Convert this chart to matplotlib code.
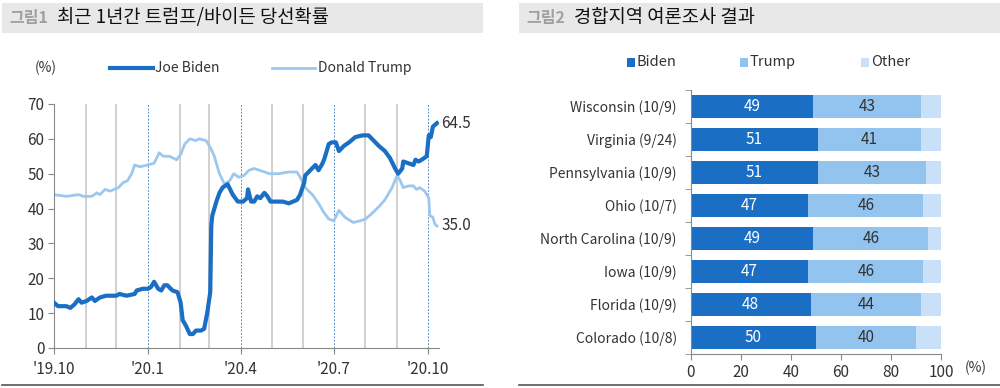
import matplotlib.pyplot as plt
import matplotlib.patches as mpatches
import numpy as np
import pandas as pd

plt.rcParams['font.family'] = ['Noto Sans CJK KR', 'DejaVu Sans']

# --- data: figure 1 (days since 2019-10-01) ---
biden_days = [0, 4, 12, 16, 20, 24, 27, 32, 37, 40, 45, 51, 61, 64, 71, 79, 81, 87, 92, 95,
              98, 102, 105, 108, 111, 116, 121, 124, 126, 129, 133, 136, 139, 144, 147, 150,
              153, 154, 155, 159, 162, 165, 170, 175, 180, 185, 189, 190, 193, 196, 199, 202,
              206, 209, 212, 217, 224, 230, 238, 241, 245, 246, 251, 256, 259, 263, 265, 269,
              272, 276, 279, 284, 289, 295, 302, 308, 313, 318, 324, 329, 334, 337, 341, 342,
              347, 352, 354, 357, 360, 365, 367, 369, 371, 375]
biden_vals = [13, 12, 12, 11.5, 12.5, 14, 13, 13.5, 14.5, 13.5, 14.5, 15, 15, 15.5, 15, 15.5,
              16.5, 17, 17, 17.5, 19, 17, 16.5, 18, 18, 16.5, 16, 13, 8, 6.5, 4, 4, 5, 5, 5.5,
              10, 16, 35, 38, 42, 44.5, 46, 47, 44, 42, 42, 43, 45.5, 42, 42, 43.5, 43, 44.5,
              43.5, 42, 42, 42, 41.5, 42.5, 44, 47.5, 49.5, 51, 52.5, 51, 53, 54.5, 58.5, 59,
              59, 56.5, 58, 59, 60.5, 61, 61, 59.5, 58, 56.5, 54.5, 51.5, 50, 51.5, 53.5, 53,
              52.5, 54, 53.5, 54, 55, 61, 60.5, 63.5, 64.5]
trump_days = [0, 12, 24, 29, 37, 42, 45, 50, 55, 63, 68, 72, 76, 79, 84, 92, 98, 103, 107,
              113, 120, 124, 128, 133, 139, 142, 149, 154, 157, 162, 167, 172, 176, 181, 186,
              191, 196, 201, 206, 211, 220, 230, 238, 241, 246, 253, 259, 264, 269, 274, 279,
              285, 293, 300, 305, 311, 318, 324, 331, 336, 339, 342, 347, 352, 355, 358, 363,
              367, 368, 371, 373, 375]
trump_vals = [44, 43.5, 44, 43.5, 43.5, 44.5, 44, 45.5, 45, 46, 47.5, 48, 50, 52.5, 52, 52.5,
              53, 56, 55, 55, 54, 55.5, 58.5, 60, 59.5, 60, 59.5, 57, 55, 50, 47, 48, 50, 49,
              49.5, 51, 51.5, 51, 50.5, 50, 50, 50.5, 50.5, 49, 46, 44, 41.5, 39, 37, 36.5,
              39.5, 37.5, 36, 36.5, 37, 38.5, 40.5, 42.5, 46, 49.5, 48, 46, 46.5, 46.5, 45.5,
              46, 45, 43, 38, 37.5, 35.5, 35]
tick_labels = ["'19.10", "'20.1", "'20.4", "'20.7", "'20.10"]

# --- data: figure 2 ---
states = ['Wisconsin (10/9)', 'Virginia (9/24)', 'Pennsylvania (10/9)', 'Ohio (10/7)',
          'North Carolina (10/9)', 'Iowa (10/9)', 'Florida (10/9)', 'Colorado (10/8)']
biden_poll = [49, 51, 51, 47, 49, 47, 48, 50]
trump_poll = [43, 41, 43, 46, 46, 46, 44, 40]
other_poll = [8, 8, 6, 7, 5, 7, 8, 10]

c_biden = '#1a6ec3'
c_trump = '#93c3ef'
c_other = '#c8e0f8'
c_line_trump = '#9cc8ef'
grey_text = '#333333'

fig = plt.figure(figsize=(10, 3.88), dpi=100)

# title bars
for x0, w, num, title in [(0.002, 0.481, '그림1', '최근 1년간 트럼프/바이든 당선확률'),
                          (0.519, 0.481, '그림2', '경합지역 여론조사 결과')]:
    fig.patches.append(mpatches.Rectangle((x0, 1 - 33 / 388), w, 30 / 388, transform=fig.transFigure,
                                          facecolor='#e8e8e8', edgecolor='none', zorder=0))
    fig.text(x0 + 0.007, 1 - 18 / 388, num, fontsize=11.5, fontweight='bold', color='#a0a0a0', va='center')
    fig.text(x0 + 0.055, 1 - 18 / 388, title, fontsize=13.5, color='#111111', va='center')
    fig.add_artist(plt.Line2D([x0, x0 + w], [1 - 385 / 388] * 2, transform=fig.transFigure,
                              color='#555555', lw=1.2))

# ---------- left chart ----------
start = pd.Timestamp('2019-10-01')
ax = fig.add_axes([0.054, 1 - 348 / 388, 0.385, 244 / 388])
months = pd.date_range('2019-10-01', '2020-10-01', freq='MS')
month_days = [(m - start).days for m in months]
for i, d in enumerate(month_days[1:], start=1):
    if i % 3 == 0:
        ax.axvline(d, color='#5b8fc9', lw=0.7, ls=(0, (2, 1.5)), zorder=1)
    else:
        ax.axvline(d, color='#c4c4c4', lw=1.1, zorder=1)

ax.plot(trump_days, trump_vals, color=c_line_trump, lw=2.0, zorder=2)
ax.plot(biden_days, biden_vals, color=c_biden, lw=3.0, zorder=3)
ax.text(biden_days[-1] + 4, biden_vals[-1], f'{biden_vals[-1]:.1f}', fontsize=11,
        color=grey_text, va='center')
ax.text(trump_days[-1] + 4, trump_vals[-1], f'{trump_vals[-1]:.1f}', fontsize=11,
        color=grey_text, va='center')

ax.set_xlim(0, 377)
ax.set_ylim(0, 70)
ax.set_yticks(range(0, 71, 10))
ax.set_xticks(month_days[::3])
ax.set_xticklabels(tick_labels)
for s in ['top', 'right']:
    ax.spines[s].set_visible(False)
ax.spines['left'].set_color('#888888')
ax.spines['bottom'].set_color('#888888')
ax.tick_params(axis='y', length=4, color='#888888', labelsize=11, labelcolor=grey_text, pad=3)
ax.tick_params(axis='x', length=4, color='#888888', labelsize=11, labelcolor=grey_text, pad=5)

fig.text(0.035, 1 - 68 / 388, '(%)', fontsize=10, color=grey_text, va='center')
fig.add_artist(plt.Line2D([0.110, 0.153], [1 - 68 / 388] * 2, transform=fig.transFigure,
                          color=c_biden, lw=3))
fig.text(0.155, 1 - 68 / 388, 'Joe Biden', fontsize=10, color=grey_text, va='center')
fig.add_artist(plt.Line2D([0.272, 0.315], [1 - 68 / 388] * 2, transform=fig.transFigure,
                          color=c_line_trump, lw=2))
fig.text(0.318, 1 - 68 / 388, 'Donald Trump', fontsize=10, color=grey_text, va='center')

# ---------- right chart ----------
bx = fig.add_axes([0.6907, 1 - 354 / 388, 0.2503, 264 / 388])
y = np.arange(len(states))
left2 = np.array(biden_poll)
left3 = left2 + np.array(trump_poll)
bx.barh(y, biden_poll, height=0.7, color=c_biden, zorder=2)
bx.barh(y, trump_poll, left=left2, height=0.7, color=c_trump, zorder=2)
bx.barh(y, other_poll, left=left3, height=0.7, color=c_other, zorder=2)
for i in range(len(states)):
    bx.text(biden_poll[i] / 2, i, str(biden_poll[i]), ha='center', va='center',
            color='white', fontsize=11)
    bx.text(biden_poll[i] + trump_poll[i] / 2, i, str(trump_poll[i]), ha='center',
            va='center', color=grey_text, fontsize=11)

bx.set_ylim(len(states) - 0.5, -0.5)
bx.set_xlim(0, 100)
bx.set_yticks(y)
bx.set_yticklabels(states)
bx.set_yticks(np.arange(-0.5, len(states), 1), minor=True)
bx.tick_params(axis='y', which='major', length=0, labelsize=10, labelcolor=grey_text, pad=10)
bx.tick_params(axis='y', which='minor', length=4, color='#888888')
bx.set_xticks(range(0, 101, 20))
bx.tick_params(axis='x', length=4, color='#888888', labelsize=11, labelcolor=grey_text, pad=3)
for s in ['top', 'right']:
    bx.spines[s].set_visible(False)
bx.spines['left'].set_color('#888888')
bx.spines['bottom'].set_color('#888888')
fig.text(0.965, 1 - 368 / 388, '(%)', fontsize=10, color=grey_text, va='center')

for xx, lab, col in [(0.627, 'Biden', c_biden), (0.740, 'Trump', c_trump), (0.861, 'Other', c_other)]:
    fig.patches.append(mpatches.Rectangle((xx, 1 - 66.5 / 388), 0.008, 8 / 388,
                                          transform=fig.transFigure, facecolor=col, edgecolor='none'))
    fig.text(xx + 0.010, 1 - 62 / 388, lab, fontsize=10.5, color=grey_text, va='center')

fig.savefig('out.png', dpi=100)
